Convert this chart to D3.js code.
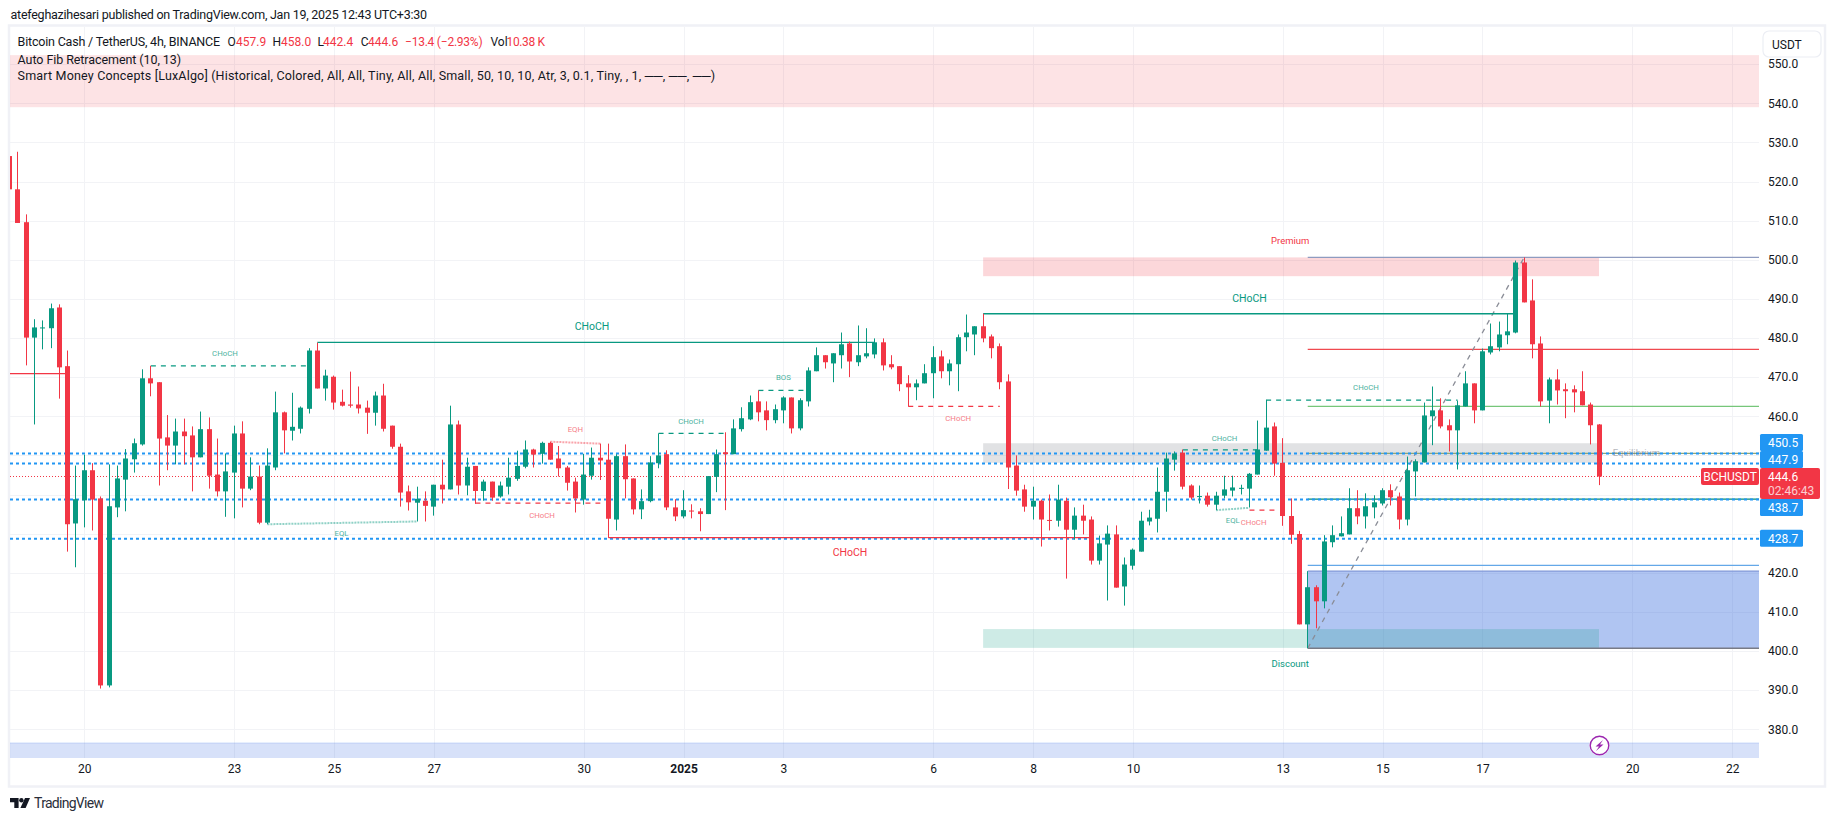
<!DOCTYPE html>
<html><head><meta charset="utf-8">
<style>html,body{margin:0;padding:0;background:#fff}svg{display:block}text{font-family:Roboto,"Open Sans",sans-serif}</style>
<script src="https://cdn.jsdelivr.net/npm/d3@7/dist/d3.min.js"></script>
</head><body><svg id="c" width="1835" height="821"></svg>
<script>
// Bars: 4h candles, index 0 = Dec 20 00:00 (first bar index = -9)
const firstBar = -9;
const open = [526.5,518,509.6,480.1,482.6,482.5,487.8,472.8,432.6,
438.5,446.2,439,391.2,436.7,443.8,449,452.8,469.7,468.7,
454.6,452.5,456.1,455.1,449.5,456.7,445.1,440.8,445.6,455.6,
441.5,444.6,432.8,446.9,461,456.3,456.8,461.9,476.8,467.1,
470.1,463.7,463,463,462.2,460.9,465.3,457.6,452.2,440.8,
437.9,438.4,436.9,442.5,441.3,457.9,442.3,447.3,440.9,443.3,
439.5,442,444,447.1,451.5,450.4,453.2,449.2,446.9,443.3,
438.7,444.8,449.4,448.9,433.6,449.8,444.1,436.2,438.3,448,
450.3,436.7,434.4,435.9,435.7,435,444.5,450.8,450.3,456.7,
459.2,463.8,461.5,459,461.5,464.8,456.9,463.8,471.5,475.6,
473.5,475.6,478.6,473.8,475.3,475.8,478.9,473.3,472.8,468.4,
467.4,468.4,471,475.3,471.5,473.3,480.2,480.9,483,480.4,
477.9,468.9,447.4,441.3,436.9,438.4,433.5,433.3,438.4,431,
434.6,433.6,423.1,427.2,429.8,416.5,421.8,425.4,433.1,433.8,
440.7,448.9,450.7,442.3,439.5,439.7,437.4,439.7,441,441.6,
441.5,445.1,451.2,457.4,448.1,434.5,429.9,406.8,416.3,412.7,
427.8,429.3,429.8,436.5,434.4,436.7,437.7,441.1,439.5,433.6,
445.9,448.2,460,461.5,457.7,456.4,462.5,468.4,461.5,476.3,
477.6,480.7,481.4,499.3,489.6,478.6,464,469.4,466.9,466.9,466.4,463,457.9];
const high = [527,527.6,511.6,484.8,484.5,488.8,488.6,476.8,447.4,
450.2,448,439.5,447.7,447.4,451.6,454.3,472,472.9,468.7,
460.3,459.4,459.4,457.4,461.2,459.7,454.3,450.5,457.6,458.7,
449.5,447.4,451.8,466.3,461.2,466,462.5,477.4,478.8,471.9,
470.4,466.8,471.4,467.6,464,466.3,468.3,457.6,453,442.3,
442,440.8,442.5,448.9,462.7,458.9,449.4,447.3,443.8,443.3,
443.3,449.4,451.2,453.8,451.7,453.5,453.5,452.4,447.3,444.3,
450.4,452,453,453,450.3,452.8,444.1,441.3,449.8,455.6,
451.3,438.8,441.1,437.5,436.5,444.7,451.5,455.9,459.2,462.3,
465.3,466.6,463.8,463,465.1,464.8,464.6,472.5,477.6,475.6,
476.1,481.4,479.1,483.2,482.5,479.9,479.9,475.6,472.8,470.5,
469.4,473.3,477.9,476.8,474.5,480.9,486,483,486.2,480.9,
478.6,470.7,450,442.5,442,438.7,440,442.5,439.2,436.7,
437.4,434.4,429.5,432.1,432.1,423.9,426.2,435.6,436.1,446.9,
450.7,451,451.5,442.6,442.3,440.5,440.7,444.8,444.8,442.5,
445.5,458.9,464.2,458.4,454.4,439,430.7,420.4,416.8,429.6,
432.1,434.4,441.6,441.1,440.3,439.8,441.6,442.6,440.5,449.7,
449,463.5,467.6,464.6,459.2,464,471.5,468.4,477.3,483.7,
484.2,486.2,499.8,500.6,495,480.4,469.9,472,468.4,467.9,471.5,463.5,458];
const low = [518,509.4,473,457.9,477.1,477.4,464.5,425.4,421.4,
431.6,430.8,390.4,390.7,434.2,435.7,445.6,452.5,465.1,442.3,
446.2,447.7,447.7,440.8,449.5,441.5,439.5,434.3,433.9,436.7,
441.1,432.4,432.4,446.2,450.5,453.8,455.6,460.7,467.1,464,
461.7,462.5,462.2,460.7,455.5,457.6,456.1,451.7,436.9,435.9,
433.1,433.1,434.6,437.7,441.3,440,439.8,437.6,438.4,438.4,
439.2,440,443.5,446.7,446.9,447.9,448.9,444.6,441,435.4,
437.4,443.8,443.7,428.9,430.8,439,434.9,433.7,438,446.7,
436,433.2,433.9,433.9,430.6,435,440.6,436,450.3,456.1,
459,458.7,456.4,458.2,458.2,455.6,456.4,462.5,471.5,472.2,
468.7,472.2,470,472.8,474.8,474.8,471.7,472,466.4,462.5,
464.1,468.4,464.6,469.7,467.9,466.4,476.6,475.6,478.9,474.8,
466.9,441.4,439.7,435.6,433.6,426.7,430.8,431.8,418.5,428.5,
429.8,422.1,422.1,412.9,416.2,411.6,420.8,425.4,432.1,430.3,
435.6,446.1,441.3,438.7,437.7,436.9,436,439,439.5,440,
436.7,445.1,451.2,444.8,432,427.4,406.8,400.7,405.8,410.9,
426.5,429.3,429.8,432.4,431.3,433.9,437.2,437.2,431.1,432.1,
439.5,448.2,452.6,456.9,451,446.4,462.5,458.2,461.5,475.8,
476.6,478.4,481.2,489.1,474.8,462.5,458.2,463,459.5,461,462.8,452.8,442.4];
const close = [518,509.4,480.1,482.7,482.7,487.6,472.5,432.4,438.8,
446.2,438.7,391.2,437,444.1,449.2,453.1,469.7,468.4,454.3,
452.5,456.1,454.9,449.5,456.7,444.8,440.8,445.9,455.6,441.5,
444.6,432.8,447.4,461,456.4,457.3,462.2,476.8,467.1,470.4,
463.5,462.7,462.7,462,460.9,465.3,456.8,452.2,440.5,438,
438.9,437.1,442.5,441.3,457.9,442.3,447.1,440.9,443.3,439.2,
442.3,444.3,447.3,451.5,450.2,453.2,448.9,446.7,443,439,
445.1,449.4,448.7,433.8,449.8,443.9,436.2,438.3,448.2,450,
436.7,434.4,436,435.8,435,444.7,450.3,450.3,456.9,459.5,
463.6,461,459,461.8,464.8,456.9,464.1,471.7,475.6,473.8,
476.1,478.4,474,475.6,476.1,478.9,473,472.5,468.2,467.4,
468.4,471,475.1,471.5,473.5,480.2,481.4,483,479.9,477.4,
468.7,446.9,441,436.9,438.4,433.6,433.4,438.7,431,434.6,
433.3,423.1,427.5,430,416.2,422.1,425.9,433.3,434.1,440.7,
449.2,450.5,442,439.2,439.6,437.4,439.7,441.3,441.8,441.7,
445.3,451.5,457.1,447.9,434.5,429.7,406.8,416.3,412.7,428,
429.6,430.1,436.5,434.4,437,438,441.1,439.3,433.6,446.2,
448.5,460.2,461.5,457.4,456.4,462.8,468.4,461.5,476.6,477.9,
480.9,481.7,499.3,489.1,478.4,463.8,469.4,466.6,466.4,466.1,462.8,457.7,444.6];

// Axes
const priceTicks = [380,390,400,410,420,430,440,450,460,470,480,490,500,510,520,530,540,550];
const coveredPriceTicks = [430,440,450]; // hidden behind the price badges in the reference
const timeTickBars = [0,18,30,42,60,72,84,102,114,126,144,156,168,186,198];
const timeTickLabels = ["20","23","25","27","30","2025","3","6","8","10","13","15","17","20","22"];

// Smart Money Concepts structure: [fromBar, toBar, price]
const solidGreen = [[28,95,478.9],[108,172,486.2]];
const solidRed = [[-9,-2,470.9],[63,121,429]];
const dashedGreen = [[8,27,472.9],[69,77,455.6],[81,87,466.6],[132,141,451.4],[142,165,464.1]];
const dashedRed = [[47,62,437.8],[99,110,462.5],[140,143,436]];
const equalLows = [[22,432.4,40,433.1],[136,436,140,436.6]];
const equalHighs = [[56,453.5,62,453]];
const labelsGreenBig = [[61,482.9,"CHoCH"],[140,490.2,"CHoCH"]];
const labelsRedBig = [[92,425.2,"CHoCH"]];
const labelsGreenSmall = [[16.9,476,"CHoCH"],[72.9,458.6,"CHoCH"],[84,470,"BOS"],[137,454.3,"CHoCH"],[154,467.4,"CHoCH"],[30.9,430.2,"EQL"],[138,433.3,"EQL"]];
const labelsRedSmall = [[55,434.6,"CHoCH"],[105,459.4,"CHoCH"],[140.5,432.9,"CHoCH"],[59,456.6,"EQH"]];
const zoneStartBar = 108, zoneEndBar = 182;
const premium = [495.8,500.6], equilibrium = [448.1,453.1], discount = [400.8,405.6];
const topZone = [539,552.3], bottomZoneTop = 376.5;
// Auto Fib
const fibStartBar = 147, fibEndBar = 173;
const fibLevels = [500.6,477.1,462.5,450.5,438.8,421.9,420.4,400.7];
const fibColors = ["#8e9bc0","#f0494f","#76c67a","#8fa678","#00897b","#64a8e8","#7f97d8","#787b86"];
const fibBox = [400.7,420.4], fibDiag = [400.7,500.6];
// Alerts and last price
const alertLevels = [450.5,447.9,438.7,428.7];
const lastPrice = 444.6;

const GREEN="#089981", RED="#f23645", BLUE="#2196f3", TXT="#131722";
const paneL=10, paneR=1759, paneT=27, paneB=758;
const x = d3.scaleLinear().domain([0,186]).range([84.3,1632.3]);
const y = d3.scaleLinear().domain([400,500]).range([651,259.75]);
const svg = d3.select("#c");
const defs = svg.append("defs");
defs.append("clipPath").attr("id","pane").append("rect").attr("x",paneL).attr("y",paneT).attr("width",paneR-paneL).attr("height",paneB-paneT);
svg.append("rect").attr("x",9).attr("y",25.5).attr("width",1816).attr("height",761).attr("fill","#fff").attr("stroke","#f0f1f6").attr("stroke-width",2.5);
const pane = svg.append("g").attr("clip-path","url(#pane)");
const snap = v=>Math.round(v)+0.5;

// grid
pane.append("g").selectAll("line").data(priceTicks).join("line")
 .attr("x1",paneL).attr("x2",paneR).attr("y1",d=>snap(y(d))).attr("y2",d=>snap(y(d))).attr("stroke","#f2f3f6");
pane.append("g").selectAll("line").data(timeTickBars).join("line")
 .attr("y1",paneT).attr("y2",paneB).attr("x1",d=>snap(x(d))).attr("x2",d=>snap(x(d))).attr("stroke","#f2f3f6");

// zones
const band=(x0,x1,p0,p1,fill)=>pane.append("rect").attr("x",x0).attr("width",x1-x0).attr("y",y(p1)).attr("height",y(p0)-y(p1)).attr("fill",fill);
band(paneL,paneR,topZone[0],topZone[1],"rgba(242,54,69,0.14)");
pane.append("rect").attr("x",paneL).attr("width",paneR-paneL).attr("y",y(bottomZoneTop)).attr("height",paneB-y(bottomZoneTop)).attr("fill","rgba(41,98,225,0.19)");
pane.append("line").attr("x1",paneL).attr("x2",paneR).attr("y1",y(bottomZoneTop)).attr("y2",y(bottomZoneTop)).attr("stroke","rgba(41,98,225,0.18)");
band(x(fibStartBar),paneR,fibBox[0],fibBox[1],"rgba(41,98,220,0.37)");
band(x(zoneStartBar),x(zoneEndBar),premium[0],premium[1],"rgba(242,54,69,0.2)");
band(x(zoneStartBar),x(zoneEndBar),equilibrium[0],equilibrium[1],"rgba(120,123,134,0.22)");
band(x(zoneStartBar),x(zoneEndBar),discount[0],discount[1],"rgba(8,153,129,0.2)");

// fib levels
pane.append("g").selectAll("line").data(fibLevels).join("line")
 .attr("x1",x(fibStartBar)).attr("x2",paneR).attr("y1",d=>y(d)).attr("y2",d=>y(d))
 .attr("stroke",(d,i)=>fibColors[i]).attr("stroke-width",1.3);
pane.append("line").attr("x1",x(fibStartBar)).attr("y1",y(fibDiag[0])).attr("x2",x(fibEndBar)).attr("y2",y(fibDiag[1]))
 .attr("stroke","#8a8d97").attr("stroke-width",1.3).attr("stroke-dasharray","5 5");

// alert + price lines
pane.append("g").selectAll("line").data(alertLevels).join("line")
 .attr("x1",paneL).attr("x2",paneR).attr("y1",d=>y(d)).attr("y2",d=>y(d))
 .attr("stroke",BLUE).attr("stroke-width",2).attr("stroke-dasharray","3 3");
pane.append("line").attr("x1",paneL).attr("x2",paneR).attr("y1",y(lastPrice)).attr("y2",y(lastPrice))
 .attr("stroke",RED).attr("stroke-dasharray","1 2");

// structure lines
const seg=(data,col,dash,w)=>pane.append("g").selectAll("line").data(data).join("line")
 .attr("x1",d=>x(d[0])).attr("x2",d=>x(d[1])).attr("y1",d=>y(d[2])).attr("y2",d=>y(d[2]))
 .attr("stroke",col).attr("stroke-width",w||1.3).attr("stroke-dasharray",dash||null);
seg(solidGreen,GREEN); seg(solidRed,RED);
seg(dashedGreen,GREEN,"5 5"); seg(dashedRed,RED,"5 5");
const eq=(data,col)=>pane.append("g").selectAll("line").data(data).join("line")
 .attr("x1",d=>x(d[0])).attr("x2",d=>x(d[2])).attr("y1",d=>y(d[1])).attr("y2",d=>y(d[3]))
 .attr("stroke",col).attr("stroke-opacity",0.45).attr("stroke-width",2).attr("stroke-dasharray","2 1");
eq(equalLows,GREEN); eq(equalHighs,RED);

// candles
const bars = d3.range(open.length);
const bar = i=>i+firstBar;
const col = i=>close[i]>=open[i]?GREEN:RED;
const cg = pane.append("g");
cg.selectAll("line").data(bars).join("line")
 .attr("x1",i=>snap(x(bar(i))-0.5)).attr("x2",i=>snap(x(bar(i))-0.5))
 .attr("y1",i=>y(high[i])).attr("y2",i=>y(low[i])).attr("stroke",col);
cg.selectAll("rect").data(bars).join("rect")
 .attr("x",i=>Math.round(x(bar(i))-0.5)-2).attr("width",5)
 .attr("y",i=>y(Math.max(open[i],close[i])))
 .attr("height",i=>Math.max(1,Math.abs(y(open[i])-y(close[i]))))
 .attr("fill",col);

// structure labels
const lab=(data,col,size,op)=>pane.append("g").selectAll("text").data(data).join("text")
 .attr("x",d=>x(d[0])).attr("y",d=>y(d[1])).attr("dy","0.35em").attr("text-anchor","middle")
 .attr("fill",col).attr("font-size",size).attr("opacity",op).text(d=>d[2]);
lab(labelsGreenBig,GREEN,10.5,1); lab(labelsRedBig,RED,10.5,1);
lab(labelsGreenSmall,GREEN,7.8,0.75); lab(labelsRedSmall,RED,7.8,0.65);
lab([[144.9,504.8,"Premium"]],RED,9.5,1);
lab([[144.9,396.8,"Discount"]],GREEN,9.5,1);
lab([[186.5,450.8,"Equilibrium"]],"#787b86",9.5,0.55);

// alert badge
const bolt = svg.append("g").attr("transform",`translate(1599.5,745.5)`);
bolt.append("circle").attr("r",9.3).attr("fill","#fff").attr("stroke","#fff").attr("stroke-width",2);
bolt.append("circle").attr("r",9.3).attr("fill","#fff").attr("stroke","#9c27b0").attr("stroke-width",1.4);
bolt.append("path").attr("d","M3.5,-5.5 L-4,1 L-0.5,1 L-3.5,5.5 L4,-1 L0.5,-1 Z").attr("fill","#9c27b0");

// axes
const axisText=(tx,ty,s,o={})=>svg.append("text").attr("x",tx).attr("y",ty).attr("dy","0.35em")
 .attr("font-size",o.size||12).attr("font-weight",o.weight||400).attr("fill",o.fill||TXT)
 .attr("text-anchor",o.anchor||"start").text(s);
const yAxis = d3.axisRight(y).tickValues(priceTicks.filter(d=>!coveredPriceTicks.includes(d))).tickSize(0).tickPadding(0).tickFormat(d3.format(".1f"));
const ya = svg.append("g").attr("transform","translate(1768,0)").call(yAxis);
ya.select(".domain").remove();
ya.selectAll("text").attr("font-size",12).attr("fill",TXT).attr("font-family",null);
const xAxis = d3.axisBottom(x).tickValues(timeTickBars).tickSize(0).tickPadding(0).tickFormat((d,i)=>timeTickLabels[i]);
const xa = svg.append("g").attr("transform","translate(0,764)").call(xAxis);
xa.select(".domain").remove();
xa.selectAll("text").attr("font-size",12).attr("fill",TXT).attr("font-family",null)
 .attr("font-weight",(d,i)=>timeTickLabels[i]==="2025"?700:400);

// price labels
const badgeY = {450.5:442.5,447.9:459.5,438.7:507.5,428.7:538.3};
alertLevels.forEach(p=>{
 svg.append("rect").attr("x",1760).attr("y",badgeY[p]-8.5).attr("width",43).attr("height",17).attr("rx",1.5).attr("fill",BLUE);
 axisText(1768,badgeY[p],p.toFixed(1),{fill:"#fff"});
});
svg.append("rect").attr("x",1760).attr("y",468).attr("width",60).attr("height",31).attr("rx",2).attr("fill",RED);
axisText(1768,476.5,lastPrice.toFixed(1),{fill:"#fff"});
axisText(1768,490.5,"02:46:43",{fill:"#fff"}).attr("opacity",0.75);
svg.append("rect").attr("x",1701).attr("y",468).attr("width",58).attr("height",17).attr("rx",2).attr("fill",RED);
axisText(1730,476.5,"BCHUSDT",{fill:"#fff",anchor:"middle",size:12});

// USDT button
svg.append("rect").attr("x",1763).attr("y",31).attr("width",58).attr("height",26).attr("rx",6).attr("fill","#fff").attr("stroke","#eceef4").attr("stroke-width",1.2);
axisText(1772,44.5,"USDT",{size:12});

// header + legend
const fit=(t,w)=>t.attr("textLength",w).attr("lengthAdjust","spacing");
fit(axisText(10.5,15,"atefeghazihesari published on TradingView.com, Jan 19, 2025 12:43 UTC+3:30",{size:12.5}),416.5);
fit(axisText(17.6,41.7,"Bitcoin Cash / TetherUS, 4h, BINANCE",{size:12.5}),202.5);
const legendParts=[[227.6,"O",TXT],[236,"457.9",RED],[272.6,"H",TXT],[281,"458.0",RED],[317.4,"L",TXT],[323,"442.4",RED],[360.7,"C",TXT],[368,"444.6",RED],[490.5,"Vol",TXT]];
legendParts.forEach(d=>axisText(d[0],41.7,d[1],{fill:d[2]}));
fit(axisText(405,41.7,"−13.4 (−2.93%)",{fill:RED}),77.6);
fit(axisText(506.5,41.7,"10.38 K",{fill:RED}),38.5);
fit(axisText(17.6,59.3,"Auto Fib Retracement (10, 13)",{size:12.5}),163.5);
fit(axisText(17.6,76,"Smart Money Concepts [LuxAlgo] (Historical, Colored, All, All, Tiny, All, All, Small, 50, 10, 10, Atr, 3, 0.1, Tiny, , 1, ──, ──, ──)",{size:12.5}),697.5);

// TradingView logo
const logo = svg.append("g").attr("transform","translate(10,798)").attr("fill","#131722");
logo.append("path").attr("d","M0,0 H8.6 V10 H4.3 V4.2 H0 Z");
logo.append("circle").attr("cx",11.4).attr("cy",2.2).attr("r",2.2);
logo.append("path").attr("d","M15,0 H20 L15.6,10 H10.4 Z");
fit(axisText(34,803.5,"TradingView",{size:14,fill:"#2a2e39"}),70);
</script></body></html>
